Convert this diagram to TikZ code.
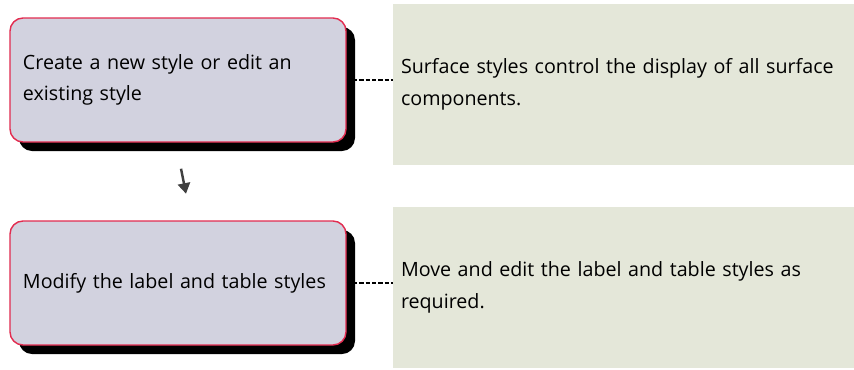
\documentclass[tikz,border=0pt]{standalone}
\usepackage{fontspec}
\setmainfont{Open Sans}
\usetikzlibrary{arrows.meta,shadows,calc}
\definecolor{boxfill}{RGB}{210,210,223}
\definecolor{boxline}{RGB}{226,44,80}
\definecolor{notefill}{RGB}{228,231,217}
\tikzset{stepbox/.style={draw=boxline,fill=boxfill,thick,rounded corners=0.26cm,
    minimum width=6.72cm,minimum height=2.48cm,text width=6.2cm,align=left,
    drop shadow={shadow xshift=0.18cm,shadow yshift=-0.18cm,fill=black,opacity=1}}}
\tikzset{notebox/.style={fill=notefill,minimum width=9.22cm,minimum height=3.22cm,
    text width=8.9cm,align=left}}
\tikzset{link/.style={draw,line width=0.6pt,dash pattern=on 2.4pt off 1.2pt}}
\tikzset{font={\fontsize{11.2pt}{18pt}\selectfont}}

\begin{document}
\begin{tikzpicture}
    \useasboundingbox (0,0) rectangle (17.08,-7.38);
        \foreach \i\j\k in {0/{Create a new style or edit an\\existing style}/{Surface styles control the display of all surface\\components.}, 1/{Modify the label and table styles}/{Move and edit the label and table styles as\\required.}}{
            \node[stepbox] (s\i) at (3.56, -1.6-4.06*\i) {\j};
            \node[notebox] (n\i) at (12.47, -1.69-4.06*\i) {\k};
            \path[link] (s\i.east) -- (s\i.east -| n\i.west);
        }
        \coordinate (a0) at ($(s0.south)+(0.06,-0.52)$);
        \coordinate (a1) at ($(s0.south)+(0.16,-1.02)$);
        \path[draw,-{Triangle[width=7pt,length=6pt]},line width=1.4pt,black!75] (a0) -- (a1);
    \end{tikzpicture}
\end{document}
